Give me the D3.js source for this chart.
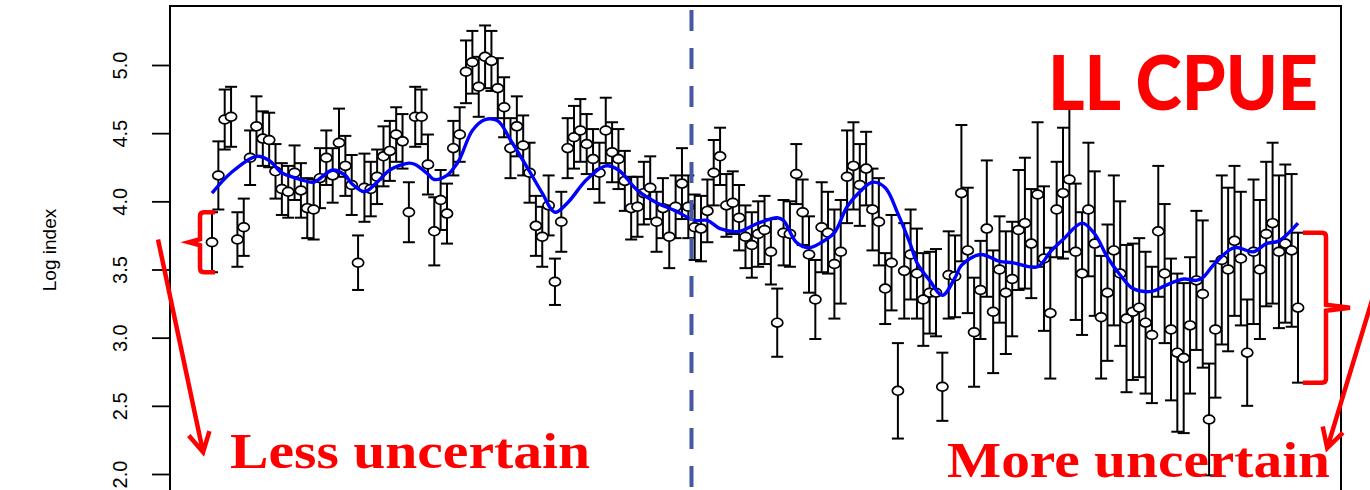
<!DOCTYPE html>
<html>
<head>
<meta charset="utf-8">
<script src="https://cdn.jsdelivr.net/npm/d3@7"></script>
<style>
  body { margin: 0; background: #fff; }
  svg { display: block; }
</style>
</head>
<body>
<div id="chart"></div>
<script>
// log index per time step
var logIndex = [
  3.70,4.19,4.60,4.62,3.72,3.81,4.32,4.55,4.46,4.45,
  4.22,4.09,4.07,4.21,4.08,3.95,3.94,4.17,4.32,4.19,
  4.43,4.26,4.12,3.55,4.10,4.09,4.18,4.33,4.37,4.49,
  4.44,3.92,4.62,4.62,4.27,3.78,4.01,3.91,4.39,4.49,
  4.95,5.02,4.84,5.06,5.03,4.83,4.69,4.39,4.55,4.41,
  4.21,3.82,3.74,3.97,3.41,3.85,4.39,4.47,4.52,4.42,
  4.31,4.21,4.52,4.36,4.31,4.15,3.95,3.96,4.06,4.10,
  3.85,3.95,3.74,3.96,4.13,3.96,3.81,3.80,3.93,4.21,
  4.33,3.97,3.99,3.88,3.74,3.68,3.76,3.79,3.63,3.11,
  3.77,3.76,4.20,3.92,3.61,3.28,3.81,3.77,3.54,3.63,
  4.18,4.26,4.12,4.24,3.94,3.85,3.36,3.55,2.61,3.49,
  3.61,3.47,3.28,3.33,3.33,2.64,3.46,3.45,4.06,3.64,
  3.04,3.35,3.80,3.19,3.50,3.33,3.43,3.79,3.84,3.69,
  4.05,3.58,3.18,3.94,4.06,4.16,3.63,3.47,3.94,3.69,
  3.15,3.33,3.64,3.47,3.14,3.19,3.22,3.11,3.02,3.78,
  3.47,3.06,2.89,2.85,3.09,3.42,3.32,2.40,3.06,3.57,
  3.50,3.71,3.58,2.89,3.63,3.50,3.76,3.84,3.63,3.69,
  3.64,3.22
];

// half width of each error bar (log units)
var halfCI = [
  .22,.25,.22,.22,.20,.21,.20,.22,.20,.20,
  .20,.19,.19,.20,.20,.22,.22,.22,.20,.20,
  .25,.22,.22,.20,.25,.20,.20,.22,.22,.20,
  .20,.22,.22,.20,.22,.25,.22,.22,.20,.20,
  .23,.23,.22,.23,.22,.22,.22,.22,.22,.22,
  .22,.22,.22,.22,.17,.22,.22,.23,.23,.22,
  .22,.22,.24,.22,.22,.22,.23,.22,.23,.23,
  .22,.22,.23,.23,.26,.23,.24,.24,.23,.24,
  .21,.23,.23,.24,.23,.24,.24,.25,.24,.25,
  .24,.24,.22,.24,.28,.29,.33,.30,.40,.38,
  .34,.32,.30,.27,.30,.32,.26,.35,.35,.35,
  .33,.33,.34,.30,.32,.25,.32,.30,.50,.46,
  .40,.36,.50,.45,.39,.45,.42,.44,.48,.40,
  .53,.53,.48,.35,.48,.53,.50,.45,.49,.53,
  .45,.50,.55,.53,.54,.50,.51,.52,.50,.48,
  .51,.52,.58,.55,.50,.51,.54,.41,.50,.62,
  .60,.55,.49,.39,.53,.51,.53,.59,.56,.58,
  .56,.55
];

// smoothed trend (blue line), read at these time steps
var smoothIdx = [0,3,7,9,11,14,16,19,21,22,24,26,28,31,32,34,35,37,38,39,
  41,43,45,47,50,52,54,56,59,62,64,67,70,73,76,78,80,83,86,89,
  90,92,94,96,98,100,102,104,106,108,110,111,113,115,117,118,121,124,126,130,
  132,134,137,139,141,143,145,148,150,153,155,156,158,161,164,166,168,171];
var smoothVal = [4.06,4.21,4.33,4.30,4.21,4.16,4.14,4.23,4.19,4.13,4.07,4.14,4.23,4.28,4.27,4.20,4.16,4.19,4.24,4.31,
  4.52,4.60,4.59,4.45,4.22,4.06,3.92,3.99,4.16,4.26,4.23,4.08,3.99,3.93,3.86,3.86,3.80,3.78,3.84,3.88,
  3.86,3.70,3.66,3.70,3.77,3.96,4.07,4.14,4.10,3.91,3.68,3.55,3.42,3.31,3.44,3.53,3.61,3.56,3.55,3.52,
  3.63,3.72,3.84,3.76,3.59,3.46,3.36,3.34,3.38,3.43,3.42,3.44,3.55,3.66,3.63,3.69,3.71,3.84];

var yTicks = [2.0, 2.5, 3.0, 3.5, 4.0, 4.5, 5.0];
var splitAt = 75.5;   // dashed divider between the two periods

var W = 1370, H = 490;
var frame = {left: 170, top: 6, right: 1341};

var data = logIndex.map(function(v, i) {
  return {i: i, v: v, lo: v - halfCI[i], hi: v + halfCI[i]};
});

var x = d3.scaleLinear().domain([0, logIndex.length - 1]).range([212, 1298]);
var y = d3.scaleLinear().domain([2, 5]).range([474, 65]);

var svg = d3.select("#chart").append("svg")
  .attr("width", W)
  .attr("height", H);

// plot box (bottom edge falls outside the picture)
svg.append("path")
  .attr("d", "M" + frame.left + "," + (H + 10) + "V" + frame.top + "H" + frame.right + "V" + (H + 10))
  .attr("fill", "none")
  .attr("stroke", "#000")
  .attr("stroke-width", 2);

// y axis
var yAxis = svg.append("g")
  .attr("transform", "translate(" + frame.left + ",0)")
  .call(d3.axisLeft(y).tickValues(yTicks).tickFormat(d3.format(".1f")).tickSize(18).tickPadding(0));
yAxis.select(".domain").remove();
yAxis.selectAll(".tick line").attr("stroke", "#000").attr("stroke-width", 1.8);
yAxis.selectAll(".tick text")
  .attr("x", null).attr("dy", null)
  .attr("transform", "translate(-43,0) rotate(-90)")
  .attr("text-anchor", "middle")
  .attr("font-family", "Liberation Sans, Arial, sans-serif")
  .attr("font-size", 20)
  .attr("fill", "#000");

svg.append("text")
  .attr("transform", "translate(56,250) rotate(-90)")
  .attr("text-anchor", "middle")
  .attr("font-family", "Liberation Sans, Arial, sans-serif")
  .attr("font-size", 19)
  .text("Log index");

// error bars
var bars = svg.append("g").attr("stroke", "#000").attr("stroke-width", 2);
bars.selectAll("line.ci").data(data).enter().append("line")
  .attr("class", "ci")
  .attr("x1", d => x(d.i)).attr("x2", d => x(d.i))
  .attr("y1", d => y(d.lo)).attr("y2", d => y(d.hi));
bars.selectAll("line.capHi").data(data).enter().append("line")
  .attr("class", "capHi")
  .attr("x1", d => x(d.i) - 6).attr("x2", d => x(d.i) + 6)
  .attr("y1", d => y(d.hi)).attr("y2", d => y(d.hi));
bars.selectAll("line.capLo").data(data).enter().append("line")
  .attr("class", "capLo")
  .attr("x1", d => x(d.i) - 6).attr("x2", d => x(d.i) + 6)
  .attr("y1", d => y(d.lo)).attr("y2", d => y(d.lo));

// points
svg.append("g").selectAll("ellipse").data(data).enter().append("ellipse")
  .attr("cx", d => x(d.i))
  .attr("cy", d => y(d.v))
  .attr("rx", 5.6)
  .attr("ry", 4.4)
  .attr("fill", "#fff")
  .attr("stroke", "#000")
  .attr("stroke-width", 1.7);

// smoothed line
var smooth = smoothIdx.map((k, j) => [k, smoothVal[j]]);
svg.append("path")
  .datum(smooth)
  .attr("fill", "none")
  .attr("stroke", "#0000ff")
  .attr("stroke-width", 3.4)
  .attr("d", d3.line().x(d => x(d[0])).y(d => y(d[1])).curve(d3.curveCatmullRom.alpha(0.5)));

// dashed divider
svg.append("line")
  .attr("x1", x(splitAt)).attr("x2", x(splitAt))
  .attr("y1", 10).attr("y2", H)
  .attr("stroke", "#4458a4")
  .attr("stroke-width", 4)
  .attr("stroke-dasharray", "21,17");

// ---- red annotations ----
var red = "#ff0000";
var first = data[0], last = data[data.length - 1];

// "{" round the first bar
var lx = x(first.i) - 12, lm = (y(first.lo) + y(first.hi)) / 2;
svg.append("path")
  .attr("d", "M" + (x(first.i) + 3) + "," + y(first.hi) + "H" + (lx + 4) + "Q" + lx + "," + y(first.hi) + " " + lx + "," + (y(first.hi) + 4) +
    "V" + (lm - 3) + "L" + (lx - 11) + "," + lm + "L" + lx + "," + (lm + 3) +
    "V" + (y(first.lo) - 4) + "Q" + lx + "," + y(first.lo) + " " + (lx + 4) + "," + y(first.lo) + "H" + (x(first.i) + 3))
  .attr("fill", "none").attr("stroke", red).attr("stroke-width", 4.5);

// "}" round the last bar
var rx = x(last.i) + 28, rm = (y(last.lo) + y(last.hi)) / 2;
svg.append("path")
  .attr("d", "M" + (x(last.i) + 5) + "," + y(last.hi) + "H" + (rx - 4) + "Q" + rx + "," + y(last.hi) + " " + rx + "," + (y(last.hi) + 4) +
    "V" + (rm - 3) + "L" + (rx + 24) + "," + rm + "L" + rx + "," + (rm + 3) +
    "V" + (y(last.lo) - 4) + "Q" + rx + "," + y(last.lo) + " " + (rx - 4) + "," + y(last.lo) + "H" + (x(last.i) + 5))
  .attr("fill", "none").attr("stroke", red).attr("stroke-width", 4.5);

function arrow(from, to) {
  var x0 = x(from[0]), y0 = y(from[1]), x1 = x(to[0]), y1 = y(to[1]);
  var a = Math.atan2(y1 - y0, x1 - x0), L = 22, s = 0.5;
  svg.append("path")
    .attr("d", "M" + x0 + "," + y0 + "L" + x1 + "," + y1 +
      "M" + (x1 - L * Math.cos(a - s)) + "," + (y1 - L * Math.sin(a - s)) + "L" + x1 + "," + y1 +
      "L" + (x1 - L * Math.cos(a + s)) + "," + (y1 - L * Math.sin(a + s)))
    .attr("fill", "none").attr("stroke", red).attr("stroke-width", 4.5).attr("stroke-linejoin", "miter");
}
arrow([-8.5, 3.72], [-1.4, 2.16]);
arrow([182.7, 3.28], [175.6, 2.19]);

svg.append("text")
  .attr("x", 1048).attr("y", 110)
  .attr("font-family", "Lato, 'Open Sans', sans-serif")
  .attr("font-weight", 900)
  .attr("font-size", 77)
  .attr("textLength", 270).attr("lengthAdjust", "spacingAndGlyphs")
  .attr("fill", red)
  .text("LL CPUE");

svg.append("text")
  .attr("x", 230).attr("y", 468)
  .attr("font-family", "Liberation Serif, 'Times New Roman', serif")
  .attr("font-weight", "bold")
  .attr("font-size", 51)
  .attr("textLength", 360).attr("lengthAdjust", "spacingAndGlyphs")
  .attr("fill", red)
  .text("Less uncertain");

svg.append("text")
  .attr("x", 947).attr("y", 477)
  .attr("font-family", "Liberation Serif, 'Times New Roman', serif")
  .attr("font-weight", "bold")
  .attr("font-size", 51)
  .attr("textLength", 383).attr("lengthAdjust", "spacingAndGlyphs")
  .attr("fill", red)
  .text("More uncertain");
</script>
</body>
</html>
